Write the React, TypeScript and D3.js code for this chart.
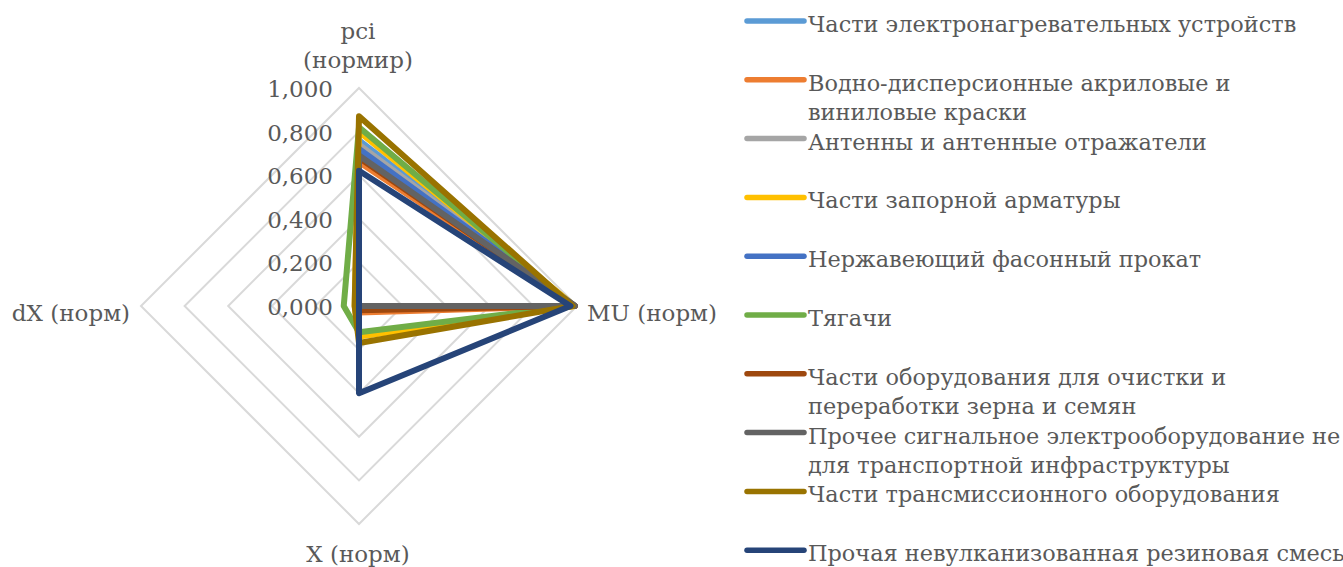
import React from "react";
import * as d3 from "d3";

// Radar axes, clockwise from the top
const axes = ["pci\n(нормир)", "MU (норм)", "X (норм)", "dX (норм)"];

const tickValues = [0, 0.2, 0.4, 0.6, 0.8, 1.0];
const tickLabels = ["0,000", "0,200", "0,400", "0,600", "0,800", "1,000"];

const seriesNames = [
  "Части электронагревательных устройств",
  "Водно-дисперсионные акриловые и\nвиниловые краски",
  "Антенны и антенные отражатели",
  "Части запорной арматуры",
  "Нержавеющий  фасонный прокат",
  "Тягачи",
  "Части оборудования для очистки и\nпереработки зерна и семян",
  "Прочее сигнальное электрооборудование не\nдля транспортной инфраструктуры",
  "Части трансмиссионного оборудования",
  "Прочая невулканизованная резиновая смесь",
];

const seriesColors = [
  "#5B9BD5",
  "#ED7D31",
  "#A5A5A5",
  "#FFC000",
  "#4472C4",
  "#70AD47",
  "#9E480E",
  "#636363",
  "#997300",
  "#264478",
];

// values per series: [pci, MU, X, dX]
const v1 = [0.76, 0.99, 0.0, 0.0];
const v2 = [0.66, 0.99, 0.03, 0.0];
const v3 = [0.74, 0.99, 0.0, 0.0];
const v4 = [0.8, 0.99, 0.14, 0.02];
const v5 = [0.72, 0.99, 0.0, 0.0];
const v6 = [0.82, 0.98, 0.12, 0.07];
const v7 = [0.68, 0.99, 0.02, 0.0];
const v8 = [0.69, 0.99, 0.0, 0.0];
const v9 = [0.87, 0.98, 0.17, 0.02];
const v10 = [0.62, 0.97, 0.4, 0.0];
const seriesValues = [v1, v2, v3, v4, v5, v6, v7, v8, v9, v10];

const W = 1343;
const H = 567;
const cx = 359;
const cy = 306;
const R = 218;
const FONT = "'DejaVu Serif', serif";
const TEXT = "#595959";
const txt = { fontFamily: FONT, fontSize: 23, fill: TEXT };
const legendTxt = { fontFamily: FONT, fontSize: 22.4, fill: TEXT };

export default function App() {
  const r = d3.scaleLinear().domain([0, 1]).range([0, R]);
  const angle = d3
    .scalePoint<number>()
    .domain(d3.range(axes.length + 1))
    .range([0, 2 * Math.PI]);

  const radar = d3
    .lineRadial<number>()
    .angle((_, i) => angle(i) as number)
    .radius((d) => r(d))
    .curve(d3.curveLinearClosed);

  const gridLevels = tickValues.filter((t) => t > 0);

  const legendX = 747;
  const legendY0 = 21;
  const legendStep = 58.8;

  return (
    <svg
      width={W}
      height={H}
      style={{ position: "absolute", left: 0, top: 0, background: "#fff" }}
    >
      <g transform={`translate(${cx},${cy})`}>
        {gridLevels.map((lv) => (
          <path
            key={lv}
            d={radar(axes.map(() => lv)) || ""}
            fill="none"
            stroke="#D9D9D9"
            strokeWidth={2}
          />
        ))}
        {seriesValues.map((vals, i) => (
          <path
            key={i}
            d={radar(vals) || ""}
            fill="none"
            stroke={seriesColors[i]}
            strokeWidth={6}
            strokeLinejoin="round"
          />
        ))}
        {tickValues.map((t, i) => (
          <text key={t} x={-26} y={-r(t) + 9} textAnchor="end" style={txt}>
            {tickLabels[i]}
          </text>
        ))}
      </g>

      {/* axis titles */}
      <text x={358} y={39} textAnchor="middle" style={txt}>
        {axes[0].split("\n")[0]}
      </text>
      <text x={358} y={68} textAnchor="middle" style={txt}>
        {axes[0].split("\n")[1]}
      </text>
      <text x={cx + r(1) + 10} y={321} style={txt}>
        {axes[1]}
      </text>
      <text x={358} y={562} textAnchor="middle" style={txt}>
        {axes[2]}
      </text>
      <text x={cx - r(1) - 11} y={321} textAnchor="end" style={txt}>
        {axes[3]}
      </text>

      {/* legend */}
      {seriesNames.map((name, i) => {
        const y = legendY0 + i * legendStep;
        const lines = name.split("\n");
        return (
          <g key={i}>
            <line
              x1={legendX}
              x2={legendX + 57}
              y1={y}
              y2={y}
              stroke={seriesColors[i]}
              strokeWidth={5.5}
              strokeLinecap="round"
            />
            <text x={legendX + 61} y={y + 11} style={legendTxt}>
              {lines.map((ln, j) => (
                <tspan key={j} x={legendX + 61} dy={j === 0 ? 0 : 29}>
                  {ln}
                </tspan>
              ))}
            </text>
          </g>
        );
      })}
    </svg>
  );
}
